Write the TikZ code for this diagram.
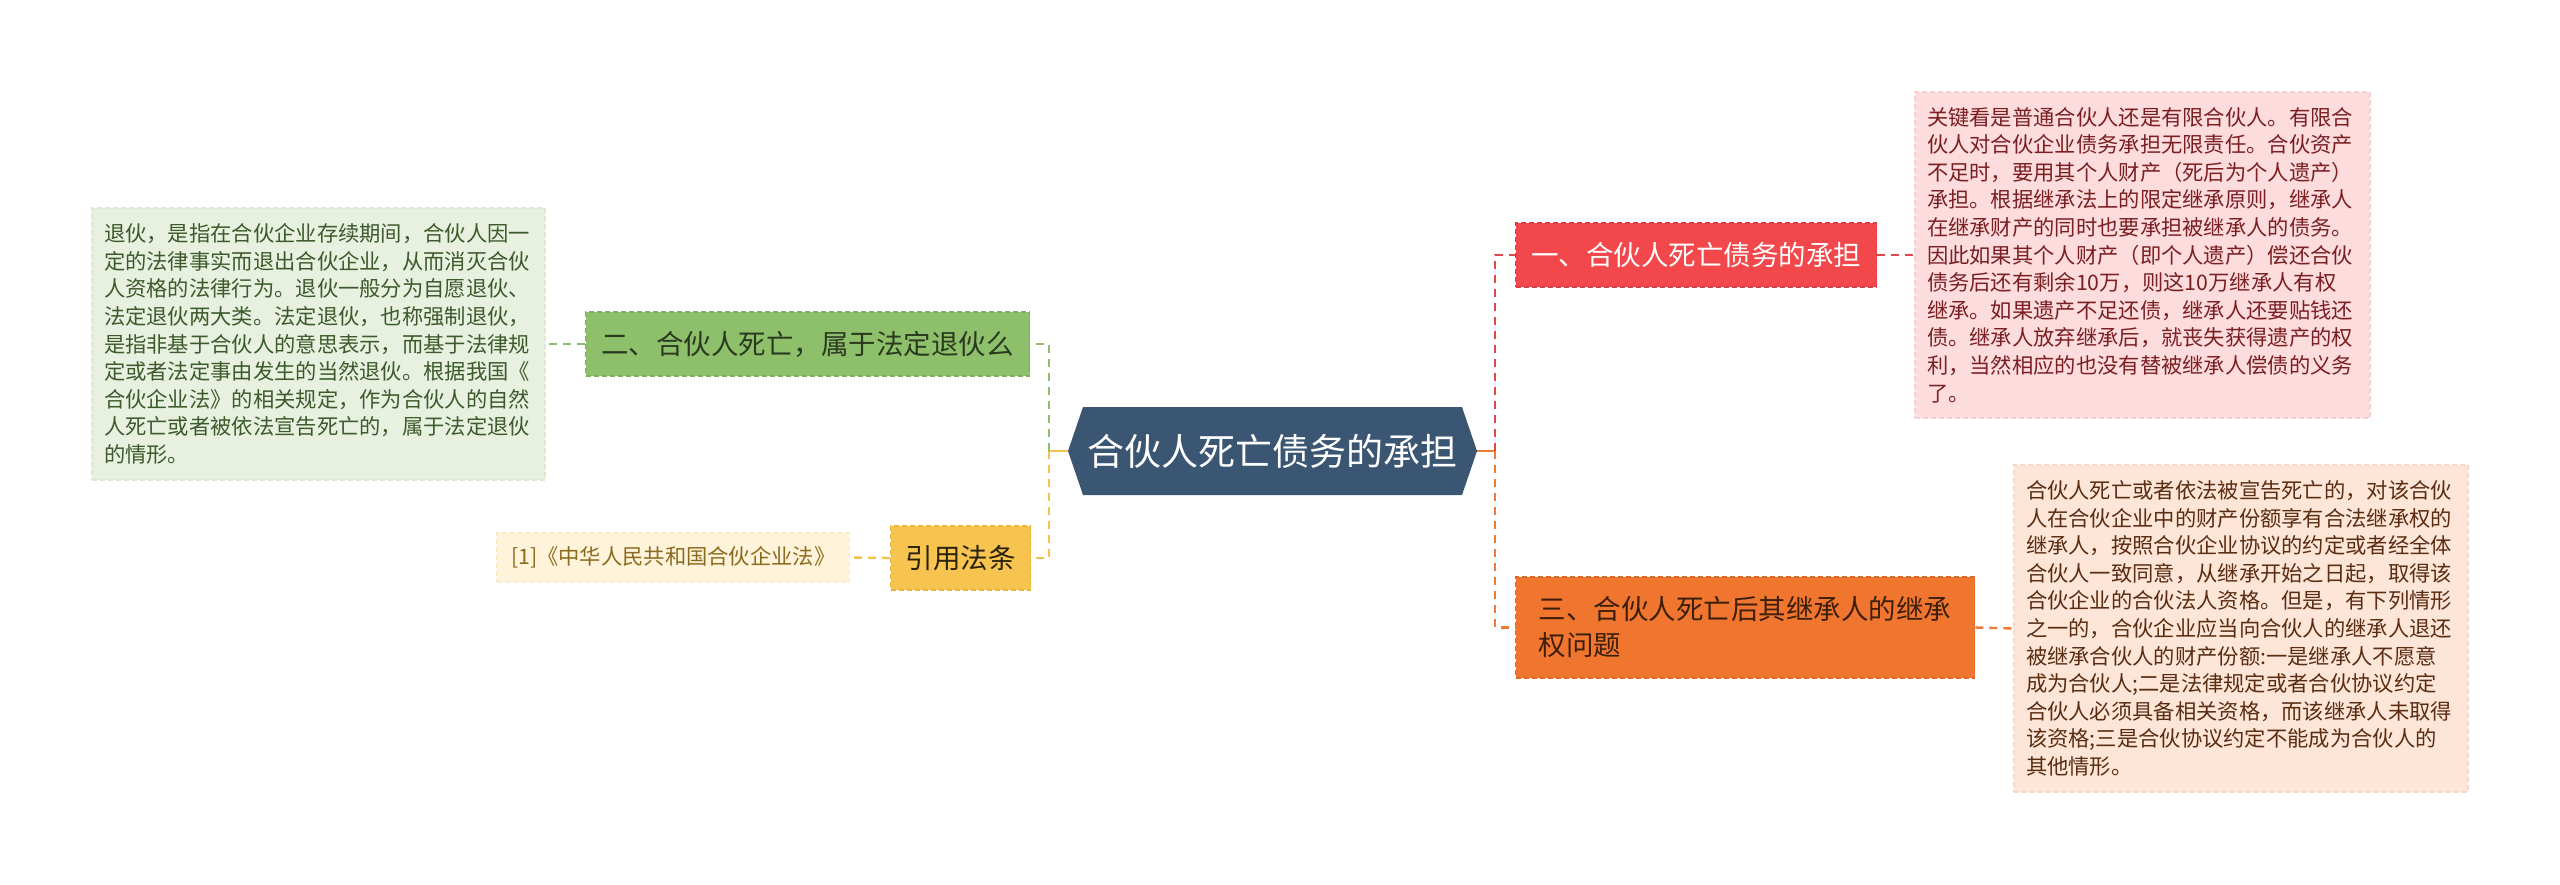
\documentclass[tikz,border=0pt]{standalone}
\usepackage{fontspec}
\setmainfont{Noto Sans CJK SC}
\usetikzlibrary{backgrounds}
\definecolor{hexc}{HTML}{3A5673}
\definecolor{redn}{HTML}{F2474B}
\definecolor{redb}{HTML}{DD3D46}
\definecolor{orangen}{HTML}{F07630}
\definecolor{orangeb}{HTML}{E06826}
\definecolor{greenn}{HTML}{8EC06C}
\definecolor{greenb}{HTML}{7DB05C}
\definecolor{yellown}{HTML}{F7C450}
\definecolor{yellowb}{HTML}{EBB638}
\definecolor{pinkt}{HTML}{FCDCDC}
\definecolor{pinktb}{HTML}{F7D0D0}
\definecolor{oranget}{HTML}{FDE5D7}
\definecolor{orangetb}{HTML}{F8D8C4}
\definecolor{greent}{HTML}{E8F0E0}
\definecolor{greentb}{HTML}{DCE8D2}
\definecolor{yellowt}{HTML}{FFF3DA}
\definecolor{yellowtb}{HTML}{F9EACA}
\definecolor{redl}{HTML}{E0464D}
\definecolor{orangel}{HTML}{EE7A35}
\definecolor{greenl}{HTML}{8DBF6C}
\definecolor{yellowl}{HTML}{F5C24E}
\definecolor{txtred}{HTML}{7B1F22}
\definecolor{txtorange}{HTML}{5A2D12}
\definecolor{txtgreen}{HTML}{3C5A2B}
\definecolor{txtyellow}{HTML}{8A6A1E}
\definecolor{txtgn}{HTML}{2B3A1F}
\definecolor{txton}{HTML}{3D1F0A}
\definecolor{txtyn}{HTML}{2A2208}
\begin{document}
\begin{tikzpicture}[x=1pt,y=-1pt,
  headbox/.style={rectangle, inner xsep=15pt, inner ysep=0pt, minimum height=64pt,
    line width=1.3pt, dash pattern=on 5pt off 3pt, align=left,
    font=\fontsize{27.5}{36}\selectfont},
  bodybox/.style={rectangle, inner xsep=12pt, inner ysep=0pt, line width=1.1pt,
    dash pattern=on 5pt off 3pt, align=left,
    font=\fontsize{21.3}{27.6}\selectfont},
  link/.style={line width=2.4pt, dash pattern=on 8pt off 6pt},
  stem/.style={line width=2.6pt}
]
\useasboundingbox (0,0) rectangle (2560,884);

% central hexagon
\coordinate (cL) at (1068,451);
\coordinate (cR) at (1477,451);
\fill[hexc] (1083,407) -- (1462,407) -- (cR) -- (1462,495) -- (1083,495) -- (cL) -- cycle;
\node[text=white, font=\fontsize{37}{44}\selectfont] (c) at (1272.5,451) {合伙人死亡债务的承担};

% main topics
\node[headbox, fill=redn, draw=redb, text=white, minimum width=361pt, anchor=west] (n1) at (1515,255)
  {一、合伙人死亡债务的承担};
\node[headbox, fill=greenn, draw=greenb, text=txtgn, minimum width=444pt, anchor=west] (n2) at (585,344)
  {二、合伙人死亡，属于法定退伙么};
\node[headbox, fill=orangen, draw=orangeb, text=txton, minimum width=459pt, minimum height=101pt, anchor=west] (n3) at (1515,627.5)
  {三、合伙人死亡后其继承人的继承\\权问题};
\node[headbox, fill=yellown, draw=yellowb, text=txtyn, minimum width=139pt, anchor=west] (n4) at (890,558)
  {引用法条};

% detail boxes
\node[bodybox, fill=pinkt, draw=pinktb, text=txtred, text width=431pt, minimum height=326pt] (t1) at (2142.5,255)
  {关键看是普通合伙人还是有限合伙人。有限合\\
   伙人对合伙企业债务承担无限责任。合伙资产\\
   不足时，要用其个人财产（死后为个人遗产）\\
   承担。根据继承法上的限定继承原则，继承人\\
   在继承财产的同时也要承担被继承人的债务。\\
   因此如果其个人财产（即个人遗产）偿还合伙\\
   债务后还有剩余10万，则这10万继承人有权\\
   继承。如果遗产不足还债，继承人还要贴钱还\\
   债。继承人放弃继承后，就丧失获得遗产的权\\
   利，当然相应的也没有替被继承人偿债的义务\\
   了。};
\node[bodybox, fill=greent, draw=greentb, text=txtgreen, text width=429pt, minimum height=272pt] (t2) at (318.5,344)
  {退伙，是指在合伙企业存续期间，合伙人因一\\
   定的法律事实而退出合伙企业，从而消灭合伙\\
   人资格的法律行为。退伙一般分为自愿退伙、\\
   法定退伙两大类。法定退伙，也称强制退伙，\\
   是指非基于合伙人的意思表示，而基于法律规\\
   定或者法定事由发生的当然退伙。根据我国《\\
   合伙企业法》的相关规定，作为合伙人的自然\\
   人死亡或者被依法宣告死亡的，属于法定退伙\\
   的情形。};
\node[bodybox, fill=oranget, draw=orangetb, text=txtorange, text width=430pt, minimum height=327pt] (t3) at (2241,628.5)
  {合伙人死亡或者依法被宣告死亡的，对该合伙\\
   人在合伙企业中的财产份额享有合法继承权的\\
   继承人，按照合伙企业协议的约定或者经全体\\
   合伙人一致同意，从继承开始之日起，取得该\\
   合伙企业的合伙法人资格。但是，有下列情形\\
   之一的，合伙企业应当向合伙人的继承人退还\\
   被继承合伙人的财产份额:一是继承人不愿意\\
   成为合伙人;二是法律规定或者合伙协议约定\\
   合伙人必须具备相关资格，而该继承人未取得\\
   该资格;三是合伙协议约定不能成为合伙人的\\
   其他情形。};
\node[bodybox, inner xsep=14pt, fill=yellowt, draw=yellowtb, text=txtyellow, minimum width=351pt, minimum height=49pt, anchor=east] (t4) at (850,557.5)
  {{[1]}《中华人民共和国合伙企业法》};

% connectors, left side
\coordinate (lj) at (1049,451);
\coordinate (rj) at (1495,451);
\draw[stem, yellowl] (cL) -- (lj);
\draw[link, greenl] (lj) |- (n2.east);
\draw[link, yellowl] (lj) |- (n4.east);
\draw[link, greenl] (n2.west) -- (t2.east);
\draw[link, yellowl] (n4.west) -- (t4.east);
% connectors, right side
\draw[stem, orangel] (cR) -- (rj);
\draw[link, redl] (rj) |- (n1.west);
\draw[link, orangel] (rj) |- (n3.west);
\draw[link, redl] (n1.east) -- (t1.west);
\draw[link, orangel] (n3.east) -- (t3.west);
\end{tikzpicture}
\end{document}
